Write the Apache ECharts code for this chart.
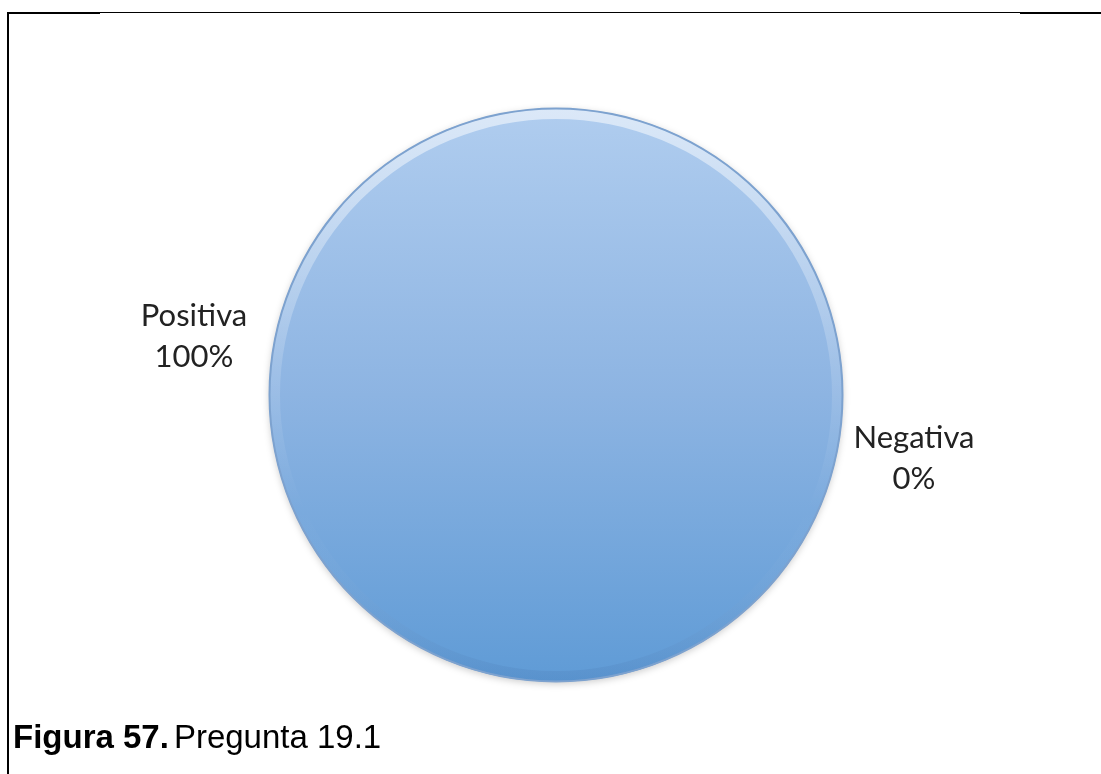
<!DOCTYPE html>
<html>
<head>
<meta charset="utf-8">
<style>
  html, body { margin: 0; padding: 0; background: #ffffff; }
  #chart { width: 1101px; height: 774px; }
</style>
<script src="https://cdn.jsdelivr.net/npm/echarts@6/dist/echarts.min.js"></script>
</head>
<body>
<div id="chart"></div>
<script>
// Answers to question 19.1
const categories = ['Positiva', 'Negativa'];
const values = [100, 0];
const captionBold = 'Figura 57.';
const captionText = 'Pregunta 19.1';

// Where each slice label sits on the canvas
const labelSpots = [
  { x: 194, y: 336 },
  { x: 914, y: 458 }
];

const pieCenter = [556, 395];
const pieData = categories.map((name, i) => ({ name, value: values[i] }));

const chart = echarts.init(document.getElementById('chart'), null, { renderer: 'canvas' });

chart.setOption({
  backgroundColor: '#ffffff',
  animation: false,
  title: {
    left: 13,
    top: 722,
    padding: 0,
    text: '{b|' + captionBold + '} {r|' + captionText + '}',
    textStyle: {
      rich: {
        b: { fontFamily: 'Liberation Sans, Arial, sans-serif', fontSize: 33, fontWeight: 'bold', color: '#000000' },
        r: { fontFamily: 'Liberation Sans, Arial, sans-serif', fontSize: 33, fontWeight: 'normal', color: '#000000' }
      }
    }
  },
  graphic: [
    { type: 'line', shape: { x1: 7, y1: 13, x2: 100, y2: 13 }, style: { stroke: '#000', lineWidth: 2 } },
    { type: 'line', shape: { x1: 100, y1: 12.5, x2: 1020, y2: 12.5 }, style: { stroke: '#000', lineWidth: 1 } },
    { type: 'line', shape: { x1: 1020, y1: 13, x2: 1101, y2: 13 }, style: { stroke: '#000', lineWidth: 2 } },
    { type: 'line', shape: { x1: 8, y1: 12, x2: 8, y2: 774 }, style: { stroke: '#000', lineWidth: 2 } }
  ],
  series: [
    {
      // main pie body
      type: 'pie',
      center: pieCenter,
      radius: [0, 287],
      startAngle: 90,
      avoidLabelOverlap: false,
      silent: true,
      data: pieData,
      itemStyle: {
        color: new echarts.graphic.LinearGradient(0, 0, 0, 1, [
          { offset: 0, color: '#b0cdef' },
          { offset: 0.5, color: '#8db4e2' },
          { offset: 1, color: '#5f9bd6' }
        ]),
        borderWidth: 0,
        shadowColor: 'rgba(0,0,0,0.2)',
        shadowBlur: 7,
        shadowOffsetY: 2
      },
      label: {
        show: true,
        position: 'outside',
        formatter: p => p.name + '\n' + p.value + '%',
        fontFamily: 'Lato, "Open Sans", sans-serif',
        fontSize: 31,
        lineHeight: 41,
        color: '#222222',
        align: 'center'
      },
      labelLine: { show: false },
      labelLayout: p => ({
        x: labelSpots[p.dataIndex].x,
        y: labelSpots[p.dataIndex].y,
        align: 'center',
        verticalAlign: 'middle'
      })
    },
    {
      // soft bevel just inside the rim
      type: 'pie',
      center: pieCenter,
      radius: [276, 286],
      startAngle: 90,
      silent: true,
      data: pieData,
      label: { show: false },
      labelLine: { show: false },
      itemStyle: {
        borderWidth: 0,
        color: new echarts.graphic.LinearGradient(0, 0, 0, 1, [
          { offset: 0, color: 'rgba(255,255,255,0.55)' },
          { offset: 0.45, color: 'rgba(255,255,255,0.15)' },
          { offset: 0.7, color: 'rgba(255,255,255,0)' },
          { offset: 1, color: 'rgba(40,80,140,0.12)' }
        ])
      }
    },
    {
      // thin darker outline
      type: 'pie',
      center: pieCenter,
      radius: [285.5, 287.5],
      startAngle: 90,
      silent: true,
      data: pieData,
      label: { show: false },
      labelLine: { show: false },
      itemStyle: { borderWidth: 0, color: '#7da2cf' }
    }
  ]
});
</script>
</body>
</html>
